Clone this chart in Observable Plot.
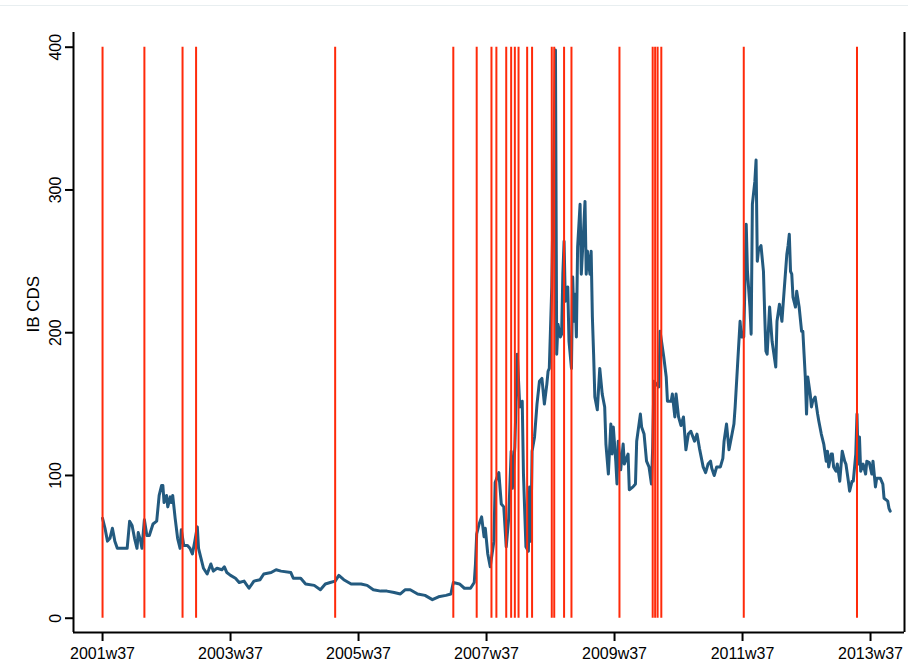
<!DOCTYPE html>
<html><head><meta charset="utf-8">
<script src="https://cdn.jsdelivr.net/npm/d3@7"></script>
<script src="https://cdn.jsdelivr.net/npm/@observablehq/plot@0.6"></script>
<style>
html,body{margin:0;padding:0;background:#fff;}
#chart{position:relative;width:908px;height:663px;}
#topline{position:absolute;left:0;top:5px;width:908px;height:1px;background:#e8eef0;}
</style></head><body>
<div id="chart"><div id="topline"></div></div>
<script>
// Stata weekly dates (%tw: weeks since 1960w1)
const weeks = [2168,2170,2172,2174,2176,2178,2180,2188,2190,2192,2194,2196,2197,2199,2200,2202,2204,2206,2209,2212,2214,2216,2217,2218,2220,2221,2223,2224,2225,2227,2229,2231,2232,2234,2237,2239,2241,2243,2245,2246,2248,2250,2253,2256,2258,2261,2265,2267,2269,2272,2276,2279,2283,2287,2291,2296,2299,2305,2309,2313,2321,2323,2329,2333,2340,2345,2349,2353,2357,2360,2364,2370,2378,2383,2388,2394,2399,2405,2410,2414,2418,2424,2430,2436,2441,2447,2451,2453,2458,2462,2467,2470,2471,2472,2474,2476,2478,2479,2481,2483,2486,2487,2490,2492,2494,2496,2498,2500,2501,2503,2505,2507,2509,2510,2512,2514,2515,2516,2517,2519,2521,2523,2525,2527,2529,2530,2531,2533,2536,2537,2538,2540,2541,2542,2543,2544,2546,2547,2549,2550,2551,2552,2553,2554,2556,2557,2559,2560,2561,2562,2564,2565,2566,2567,2568,2570,2572,2574,2576,2577,2579,2581,2582,2583,2585,2586,2587,2589,2591,2592,2595,2596,2599,2601,2602,2605,2606,2608,2610,2612,2614,2615,2616,2620,2621,2624,2626,2627,2630,2631,2633,2634,2636,2638,2640,2642,2644,2646,2649,2651,2653,2656,2658,2660,2662,2663,2665,2667,2670,2672,2673,2675,2677,2679,2681,2682,2684,2686,2687,2689,2691,2692,2694,2695,2696,2698,2699,2700,2701,2703,2705,2706,2707,2708,2710,2712,2715,2716,2718,2720,2721,2724,2725,2726,2727,2728,2729,2731,2732,2734,2736,2737,2738,2739,2740,2741,2743,2744,2745,2747,2749,2750,2752,2754,2756,2757,2758,2760,2761,2762,2764,2765,2767,2769,2771,2772,2774,2775,2777,2778,2780,2781,2782,2783,2784,2786,2788,2789,2791,2793,2794,2796,2797,2800,2802,2803,2806,2807,2808];
const cds = [70,63,54,56,63,54,49,49,68,65,56,49,60,54,49,69,58,58,66,68,86,93,93,81,86,78,85,81,86,70,56,49,62,51,51,49,45,54,64,49,42,35,31,38,33,35,34,36,32,30,28,25,26,21,26,27,31,32,34,33,32,28,28,24,23,20,24,25,26,30,27,24,24,23,20,19,19,18,17,20,20,17,16,13,15,16,17,25,24,21,21,25,38,59,66,71,57,63,45,36,54,95,102,80,78,50,70,117,91,120,185,148,152,101,50,47,92,54,117,127,150,166,168,150,164,173,175,232,398,185,206,197,199,241,264,222,232,194,175,239,208,227,197,260,290,241,274,292,241,257,241,257,211,185,155,146,175,157,148,122,101,136,115,134,110,94,124,104,122,108,115,90,92,94,124,143,134,129,110,106,94,120,166,162,201,183,169,152,152,157,141,157,141,135,141,118,129,131,124,129,119,106,102,108,110,105,100,106,106,112,124,136,118,127,136,148,178,208,197,197,276,243,218,199,290,306,321,250,258,261,243,213,187,185,218,194,176,208,220,208,220,255,261,269,243,241,225,218,229,218,201,201,185,169,143,169,157,148,152,155,143,138,129,122,110,117,106,115,115,106,103,108,96,117,110,108,96,89,96,96,115,143,108,127,103,108,101,110,109,101,110,92,98,98,94,84,82,77,75];
const events = ["2001w37","2002w19","2002w50","2003w9","2005w18","2007w10","2007w29","2007w41","2007w45","2008w1","2008w5","2008w8","2008w11","2008w18","2008w22","2008w38","2008w40","2008w48","2009w2","2009w41","2010w16","2010w18","2010w20","2010w23","2011w38","2013w26"];
const xTickLabels = ["2001w37","2003w37","2005w37","2007w37","2009w37","2011w37","2013w37"];
const yTicks = [0,100,200,300,400];
const yLabel = "IB CDS";

const parseW = s => { const [y, w] = s.split("w").map(Number); return (y - 1960) * 52 + (w - 1); };
const fmtW = n => `${1960 + Math.floor(n / 52)}w${(n % 52) + 1}`;
const series = weeks.map((w, i) => ({week: w, cds: cds[i]}));
const eventRows = events.map(s => ({week: parseW(s)}));
const xTicks = xTickLabels.map(parseW);
const xDomain = [2144.4, 2819.6];
const yDomain = [-10, 410.3];

const plot = Plot.plot({
  width: 908, height: 663,
  marginLeft: 73, marginRight: 4, marginTop: 32, marginBottom: 31,
  style: {fontFamily: "'Liberation Sans', Arial, Helvetica, sans-serif", fontSize: "16px", color: "black", background: "white", overflow: "visible"},
  x: {domain: xDomain},
  y: {domain: yDomain},
  marks: [
    Plot.line(series, {x: "week", y: "cds", stroke: "#235a7f", strokeWidth: 3, strokeLinejoin: "round"}),
    Plot.ruleX(eventRows, {x: "week", y1: 0, y2: 400, stroke: "#ff2a0a", strokeWidth: 2}),
    Plot.ruleX(xDomain, {stroke: "black", strokeWidth: 2}),
    Plot.ruleY([yDomain[0]], {stroke: "black", strokeWidth: 2}),
    Plot.axisX({ticks: xTicks, tickFormat: fmtW, tickSize: 9, tickPadding: 6, strokeWidth: 2, fontSize: 16, label: null}),
    Plot.axisY({ticks: yTicks, tickSize: 8, tickPadding: 5, tickRotate: -90, strokeWidth: 2, fontSize: 16, label: null}),
    Plot.text([yLabel], {frameAnchor: "left", dx: -40, rotate: -90, fontSize: 17})
  ]
});
document.getElementById("chart").appendChild(plot);
</script>
</body></html>
